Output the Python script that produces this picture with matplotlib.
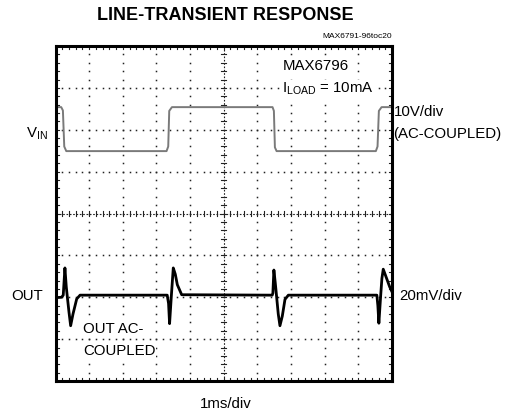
import numpy as np
import matplotlib
matplotlib.use("Agg")
import matplotlib.pyplot as plt

plt.rcParams['font.family'] = ['Liberation Sans', 'DejaVu Sans']

# Time in divisions (1 ms/div), amplitude in screen divisions (0 = bottom)
vin_t = [0.00, 0.17, 0.22, 0.26, 0.32, 3.30, 3.35, 3.38, 3.46, 6.45, 6.49, 6.52, 6.57, 9.52, 9.57, 9.61, 9.69, 10.00]
vin_v = [6.54, 6.54, 6.46, 5.60, 5.49, 5.49, 5.60, 6.45, 6.54, 6.54, 6.45, 5.58, 5.49, 5.49, 5.60, 6.45, 6.54, 6.54]

out_t = [0.00, 0.18, 0.23, 0.28, 0.32, 0.35, 0.40, 0.45, 0.52, 0.63, 0.73,
         3.32, 3.36, 3.39, 3.44, 3.50, 3.56, 3.62, 3.75,
         6.44, 6.46, 6.49, 6.53, 6.57, 6.62, 6.67, 6.74, 6.82, 6.92,
         9.55, 9.58, 9.61, 9.66, 9.70, 9.74, 9.84, 9.93, 10.00]
out_v = [1.99, 2.00, 2.05, 2.70, 2.25, 2.02, 1.65, 1.32, 1.60, 1.96, 2.05,
         2.05, 1.85, 1.37, 2.00, 2.70, 2.55, 2.30, 2.06,
         2.05, 2.10, 2.65, 2.35, 2.02, 1.60, 1.32, 1.55, 1.95, 2.05,
         2.05, 1.80, 1.38, 2.00, 2.45, 2.67, 2.45, 2.25, 2.13]

fig = plt.figure(figsize=(5.05, 4.12), dpi=100)
L, R, T, B = 55.5, 392, 46, 381
W, H = 505, 412
ax = fig.add_axes([L / W, 1 - B / H, (R - L) / W, (B - T) / H])
ax.set_xlim(0, 10)
ax.set_ylim(0, 8)
ax.set_xticks([])
ax.set_yticks([])
for s in ax.spines.values():
    s.set_linewidth(2.2)
    s.set_color('black')
    s.set_zorder(10)

# graticule
dot_kw = dict(linestyle='none', marker='s', markersize=1.1, color='#222222', markeredgewidth=0)
xs = np.arange(0, 10.001, 0.2)
ys = np.arange(0, 8.001, 0.2)
for gy in range(1, 8):
    if gy == 4:
        continue
    ax.plot(xs, np.full_like(xs, gy), **dot_kw)
for gx in range(1, 10):
    if gx == 5:
        continue
    ax.plot(np.full_like(ys, gx), ys, **dot_kw)
# center cross
ax.plot([0, 10], [4, 4], color='#222222', lw=0.8, linestyle=(0, (1.5, 1.5)))
ax.plot([5, 5], [0, 8], color='#222222', lw=0.8, linestyle=(0, (1.5, 1.5)))
for x in xs:
    ax.plot([x, x], [3.94, 4.06], color='#222222', lw=0.8)
for y in ys:
    ax.plot([4.92, 5.08], [y, y], color='#222222', lw=0.8)
# edge ticks
for x in xs:
    ax.plot([x, x], [0, 0.07], color='#222222', lw=0.8)
    ax.plot([x, x], [7.93, 8], color='#222222', lw=0.8)
for y in ys:
    ax.plot([0, 0.09], [y, y], color='#222222', lw=0.8)
    ax.plot([9.91, 10], [y, y], color='#222222', lw=0.8)

# traces
ax.plot(vin_t, vin_v, color='#7a7a7a', lw=1.4, solid_joinstyle='round', zorder=5)
ax.plot(out_t, out_v, color='black', lw=2.0, solid_joinstyle='round', zorder=6)

# texts
fs = 10.8
wb = dict(facecolor='white', edgecolor='none', pad=0.5)
fig.text(225 / W, 1 - 16 / H, 'LINE-TRANSIENT RESPONSE', ha='center', va='center',
         fontsize=13, fontweight='bold')
fig.text(392 / W, 1 - 36 / H, 'MAX6791-96toc20', ha='right', va='center', fontsize=6)
fig.text(283 / W, 1 - 66 / H, 'MAX6796', ha='left', va='center', fontsize=fs, bbox=wb, zorder=8)
fig.text(282 / W, 1 - 89 / H, r'I$_{\mathregular{LOAD}}$ = 10mA', ha='left', va='center',
         fontsize=fs, bbox=wb, zorder=8)
fig.text(394 / W, 1 - 112 / H, '10V/div', ha='left', va='center', fontsize=fs)
fig.text(393 / W, 1 - 134 / H, '(AC-COUPLED)', ha='left', va='center', fontsize=fs)
fig.text(48 / W, 1 - 134 / H, r'V$_{\mathregular{IN}}$', ha='right', va='center', fontsize=fs)
fig.text(43 / W, 1 - 296 / H, 'OUT', ha='right', va='center', fontsize=fs)
fig.text(399 / W, 1 - 296 / H, '20mV/div', ha='left', va='center', fontsize=fs)
fig.text(83 / W, 1 - 329 / H, 'OUT AC-', ha='left', va='center', fontsize=fs, bbox=wb, zorder=8)
fig.text(83 / W, 1 - 351 / H, 'COUPLED', ha='left', va='center', fontsize=fs, bbox=wb, zorder=8)
fig.text(226 / W, 1 - 404 / H, '1ms/div', ha='center', va='center', fontsize=fs)

fig.savefig('out.png', dpi=100)
